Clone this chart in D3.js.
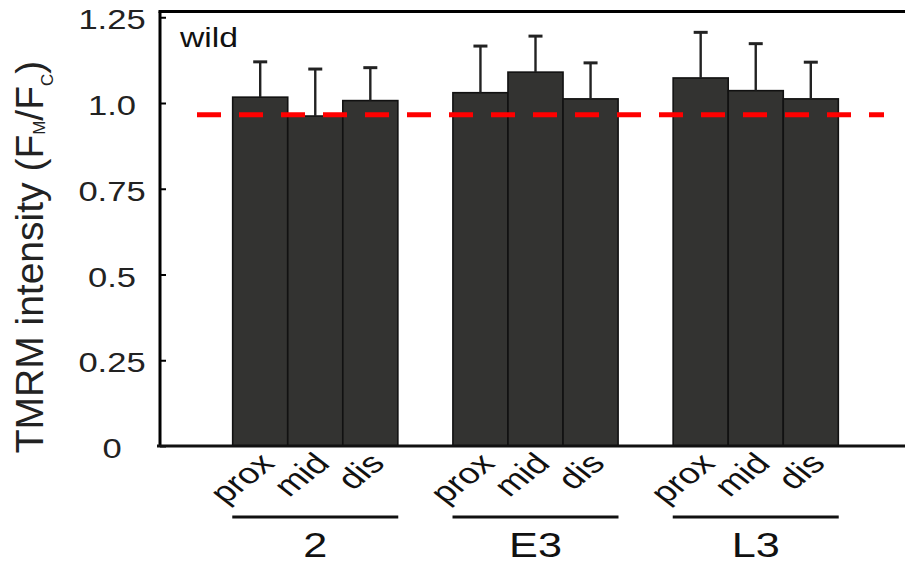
<!DOCTYPE html>
<html>
<head>
<meta charset="utf-8">
<script src="https://cdn.jsdelivr.net/npm/d3@7"></script>
<style>
  html, body { margin: 0; padding: 0; background: #fff; }
  svg { display: block; }
  text { font-family: "Liberation Sans", Arial, Helvetica, sans-serif; }
</style>
</head>
<body>
<svg id="chart" width="905" height="564"></svg>
<script>
// Stages and positions along the axon
const groups = ["2", "E3", "L3"];
const positions = ["prox", "mid", "dis"];

// Mean TMRM ratio (F_M / F_C) per position, one array per stage
const means2  = [1.017, 0.962, 1.007];
const meansE3 = [1.030, 1.090, 1.012];
const meansL3 = [1.073, 1.036, 1.012];

// Upper error (SD) per position
const err2  = [0.103, 0.137, 0.096];
const errE3 = [0.136, 0.105, 0.105];
const errL3 = [0.133, 0.137, 0.107];

// Control level drawn as the dashed reference
const controlLevel = 0.966;

// Y axis ticks
const yTickValues = [0, 0.25, 0.5, 0.75, 1.0, 1.25];
const yTickLabels = ["0", "0.25", "0.5", "0.75", "1.0", "1.25"];

const meansByGroup = { "2": means2, "E3": meansE3, "L3": meansL3 };
const errByGroup = { "2": err2, "E3": errE3, "L3": errL3 };
const rows = [];
groups.forEach(g => positions.forEach((p, i) => {
  rows.push({ group: g, pos: p, mean: meansByGroup[g][i], err: errByGroup[g][i] });
}));

const svg = d3.select("#chart");
const plotLeft = 160, plotRight = 905, plotTop = 11.5, plotBottom = 446;

const x0 = d3.scaleBand().domain(groups).range([160, 911])
  .paddingInner(0.25).paddingOuter(0.33);
const x1 = d3.scaleBand().domain(positions).range([0, x0.bandwidth()]);
const y = d3.scaleLinear().domain([0, 1.25]).range([plotBottom, 17.25]);

const cx = d => x0(d.group) + x1(d.pos) + x1.bandwidth() / 2;

// Bars
svg.append("g").selectAll("rect").data(rows).join("rect")
  .attr("x", d => x0(d.group) + x1(d.pos))
  .attr("y", d => y(d.mean))
  .attr("width", x1.bandwidth())
  .attr("height", d => y(0) - y(d.mean))
  .attr("fill", "#333331")
  .attr("stroke", "#111")
  .attr("stroke-width", 1.6);

// Error bars (upper only)
const eb = svg.append("g").attr("stroke", "#222");
eb.selectAll("line.stem").data(rows).join("line")
  .attr("class", "stem")
  .attr("x1", cx).attr("x2", cx)
  .attr("y1", d => y(d.mean)).attr("y2", d => y(d.mean + d.err))
  .attr("stroke-width", 2.4);
eb.selectAll("line.cap").data(rows).join("line")
  .attr("class", "cap")
  .attr("x1", d => cx(d) - 7).attr("x2", d => cx(d) + 7)
  .attr("y1", d => y(d.mean + d.err)).attr("y2", d => y(d.mean + d.err))
  .attr("stroke-width", 3);

// Dashed control level
svg.append("line")
  .attr("x1", 197).attr("x2", 884)
  .attr("y1", y(controlLevel)).attr("y2", y(controlLevel))
  .attr("stroke", "#ff0000")
  .attr("stroke-width", 5)
  .attr("stroke-dasharray", "24 18");

// Frame: left axis with inward ticks, top and bottom rules
const yAxis = d3.axisRight(y).tickValues(yTickValues).tickSize(6)
  .tickSizeOuter(0).tickFormat("");
const ya = svg.append("g").attr("transform", `translate(${plotLeft},0)`).call(yAxis);
ya.select(".domain").attr("stroke", "#000").attr("stroke-width", 3)
  .attr("d", `M0,${plotTop}V${plotBottom}`);
ya.selectAll(".tick line").attr("stroke", "#000").attr("stroke-width", 2);

svg.append("line").attr("x1", plotLeft - 1.5).attr("x2", plotRight)
  .attr("y1", plotTop).attr("y2", plotTop)
  .attr("stroke", "#000").attr("stroke-width", 3);
svg.append("line").attr("x1", plotLeft - 3).attr("x2", plotRight)
  .attr("y1", plotBottom).attr("y2", plotBottom)
  .attr("stroke", "#111").attr("stroke-width", 3);

// Y tick labels
svg.append("g").selectAll("text").data(yTickValues).join("text")
  .attr("transform", v => `translate(112,${y(v) + 12}) scale(1.28,1)`)
  .attr("text-anchor", "middle")
  .attr("font-size", 27)
  .attr("fill", "#222")
  .text((v, i) => yTickLabels[i]);

// Y title
const yt = svg.append("text")
  .attr("transform", "translate(43,257) rotate(-90)")
  .attr("text-anchor", "middle")
  .attr("font-size", 39)
  .attr("fill", "#222");
yt.append("tspan").text("TMRM intensity (F");
yt.append("tspan").attr("font-size", 17).attr("dy", 2).text("M");
yt.append("tspan").attr("dy", -2).text("/F");
yt.append("tspan").attr("font-size", 17).attr("dy", 10).text("C");
yt.append("tspan").attr("dy", -10).text(")");

// Panel tag
svg.append("text")
  .attr("transform", "translate(180,47) scale(1.25,1)")
  .attr("font-size", 27)
  .attr("fill", "#111")
  .text("wild");

// Position labels (45° text, widened like the rest of the lettering)
svg.append("g").selectAll("text").data(rows).join("text")
  .attr("transform", d => `translate(${cx(d) + 16},465) scale(1.28,1) rotate(-45)`)
  .attr("text-anchor", "end")
  .attr("font-size", 29)
  .attr("fill", "#111")
  .text(d => d.pos);

// Group rules and labels
const gg = svg.append("g").selectAll("g").data(groups).join("g");
gg.append("line")
  .attr("x1", g => x0(g) + x0.bandwidth() / 2 - 83)
  .attr("x2", g => x0(g) + x0.bandwidth() / 2 + 83)
  .attr("y1", 517).attr("y2", 517)
  .attr("stroke", "#111").attr("stroke-width", 3);
gg.append("text")
  .attr("transform", g => `translate(${x0(g) + x0.bandwidth() / 2},557) scale(1.2,1)`)
  .attr("text-anchor", "middle")
  .attr("font-size", 36)
  .attr("fill", "#111")
  .text(g => g);
</script>
</body>
</html>
